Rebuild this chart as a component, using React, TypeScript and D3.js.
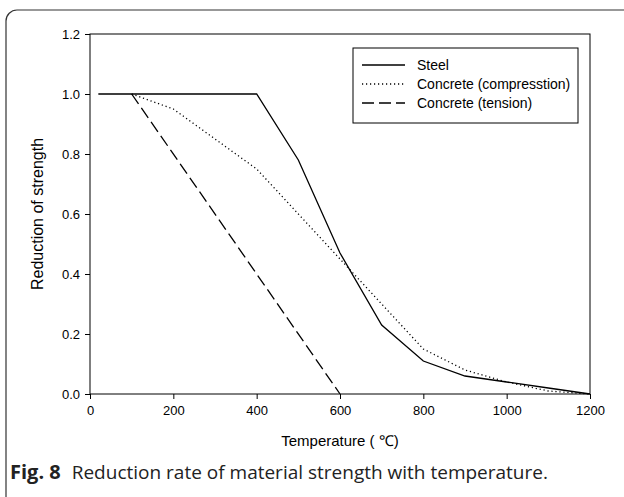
import React, { useEffect, useRef } from 'react';
import * as d3 from 'd3';

// data (Eurocode style reduction factors)
const steelTemp = [20, 400, 500, 600, 700, 800, 900, 1000, 1100, 1200];
const steelVal = [1.0, 1.0, 0.78, 0.47, 0.23, 0.11, 0.06, 0.04, 0.02, 0.0];

const compTemp = [100, 200, 300, 400, 500, 600, 700, 800, 900, 1000, 1100, 1200];
const compVal = [1.0, 0.95, 0.85, 0.75, 0.6, 0.45, 0.3, 0.15, 0.08, 0.04, 0.01, 0.0];

const tensTemp = [100, 600];
const tensVal = [1.0, 0.0];

const xTicks = [0, 200, 400, 600, 800, 1000, 1200];
const yTicks = [0, 0.2, 0.4, 0.6, 0.8, 1.0, 1.2];

const seriesNames = ['Steel', 'Concrete (compresstion)', 'Concrete (tension)'];

const App = () => {
  const svgRef = useRef<SVGSVGElement>(null);

  useEffect(() => {
    const svg = d3.select(svgRef.current);
    svg.selectAll('*').remove();

    const width = 624;
    const height = 497;
    const font = '"Liberation Sans", Arial, sans-serif';

    // outer rounded frame (cut off on the right and bottom)
    svg.append('rect')
      .attr('x', 6)
      .attr('y', 10)
      .attr('width', 640)
      .attr('height', 500)
      .attr('rx', 11)
      .attr('fill', 'none')
      .attr('stroke', '#333')
      .attr('stroke-width', 1.2);

    const left = 90, right = 590, top = 34, bottom = 394;

    const x = d3.scaleLinear().domain([0, 1200]).range([left, right]);
    const y = d3.scaleLinear().domain([0, 1.2]).range([bottom, top]);

    // frame of plot
    svg.append('rect')
      .attr('x', left)
      .attr('y', top)
      .attr('width', right - left)
      .attr('height', bottom - top)
      .attr('fill', 'none')
      .attr('stroke', '#000')
      .attr('stroke-width', 1);

    const xAxis = svg.append('g')
      .attr('transform', `translate(0,${bottom})`)
      .call(d3.axisBottom(x).tickValues(xTicks).tickSize(5).tickPadding(7).tickFormat(d3.format('d')));
    const yAxis = svg.append('g')
      .attr('transform', `translate(${left},0)`)
      .call(d3.axisLeft(y).tickValues(yTicks).tickSize(5).tickPadding(5).tickFormat(d3.format('.1f')));

    [xAxis, yAxis].forEach(g => {
      g.select('.domain').remove();
      g.selectAll('line').attr('stroke', '#000');
      g.selectAll('text')
        .attr('fill', '#000')
        .style('font-family', font)
        .style('font-size', '13px');
    });

    const line = d3.line<[number, number]>()
      .x(d => x(d[0]))
      .y(d => y(d[1]));

    const series = [
      { pts: steelTemp.map((t, i) => [t, steelVal[i]] as [number, number]), dash: null },
      { pts: compTemp.map((t, i) => [t, compVal[i]] as [number, number]), dash: '1.2,2.8' },
      { pts: tensTemp.map((t, i) => [t, tensVal[i]] as [number, number]), dash: '12,5' },
    ];

    series.forEach(s => {
      svg.append('path')
        .datum(s.pts)
        .attr('d', line)
        .attr('fill', 'none')
        .attr('stroke', '#000')
        .attr('stroke-width', 1.3)
        .attr('stroke-dasharray', s.dash);
    });

    // legend
    const lg = svg.append('g');
    lg.append('rect')
      .attr('x', 353)
      .attr('y', 48)
      .attr('width', 225)
      .attr('height', 75)
      .attr('fill', '#fff')
      .attr('stroke', '#000')
      .attr('stroke-width', 1);

    seriesNames.forEach((name, i) => {
      const ly = 65 + i * 19;
      lg.append('line')
        .attr('x1', 362)
        .attr('x2', 405)
        .attr('y1', ly)
        .attr('y2', ly)
        .attr('stroke', '#000')
        .attr('stroke-width', 1.3)
        .attr('stroke-dasharray', series[i].dash);
      lg.append('text')
        .attr('x', 417)
        .attr('y', ly + 5)
        .style('font-family', font)
        .style('font-size', '14px')
        .text(name);
    });

    // axis titles
    svg.append('text')
      .attr('x', (left + right) / 2)
      .attr('y', 446)
      .attr('text-anchor', 'middle')
      .style('font-family', font)
      .style('font-size', '15px')
      .text('Temperature ( \u2103)');

    svg.append('text')
      .attr('transform', `translate(43,${(top + bottom) / 2}) rotate(-90)`)
      .attr('text-anchor', 'middle')
      .style('font-family', font)
      .style('font-size', '16px')
      .text('Reduction of strength');

    // caption
    const cap = svg.append('text')
      .attr('x', 10)
      .attr('y', 479)
      .style('font-family', '"Open Sans", "Noto Sans", sans-serif')
      .attr('fill', '#222');
    cap.append('tspan').style('font-weight', 'bold').style('font-size', '20px').text('Fig. 8');
    cap.append('tspan').attr('dx', 11).style('font-size', '19px').text('Reduction rate of material strength with temperature.');

    svg.attr('width', width).attr('height', height);
  }, []);

  return (
    <div style={{ position: 'absolute', left: 0, top: 0 }}>
      <svg ref={svgRef} width={624} height={497} style={{ display: 'block', background: '#fff' }} />
    </div>
  );
};

export default App;
